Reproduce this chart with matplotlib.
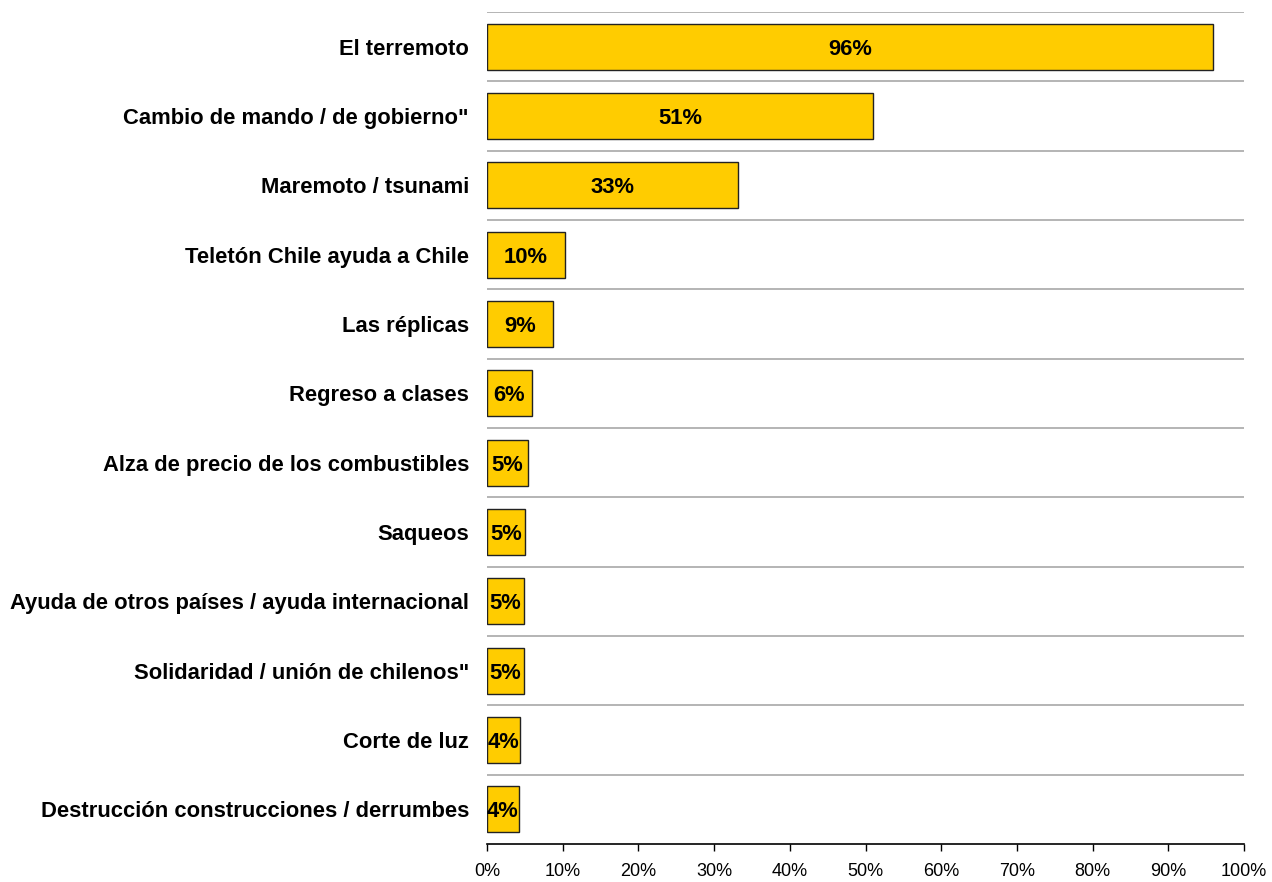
import matplotlib.pyplot as plt
from matplotlib.ticker import FuncFormatter

categories = [
    "El terremoto",
    "Cambio de mando / de gobierno\"",
    "Maremoto / tsunami",
    "Teletón Chile ayuda a Chile",
    "Las réplicas",
    "Regreso a clases",
    "Alza de precio de los combustibles",
    "Saqueos",
    "Ayuda de otros países / ayuda internacional",
    "Solidaridad / unión de chilenos\"",
    "Corte de luz",
    "Destrucción construcciones / derrumbes",
]
values = [95.9, 51.0, 33.2, 10.3, 8.7, 5.9, 5.4, 5.0, 4.9, 4.9, 4.4, 4.2]
labels = ["96%", "51%", "33%", "10%", "9%", "6%", "5%", "5%", "5%", "5%", "4%", "4%"]

plt.rcParams['font.family'] = ['Liberation Sans', 'DejaVu Sans']

fig = plt.figure(figsize=(12.72, 8.82), dpi=100)
ax = fig.add_axes([0.3829, 0.0431, 0.978 - 0.3829, 0.9864 - 0.0431])

n = len(categories)
ypos = list(range(n))
ax.barh(ypos, values, height=0.66, color="#FFCC00", edgecolor="#222222", linewidth=1.0, zorder=3)

for y, v, lab in zip(ypos, values, labels):
    ax.text(v / 2, y, lab, ha="center", va="center_baseline", fontsize=15.8, fontweight="bold", zorder=4)

ax.set_ylim(n - 0.5, -0.5)
ax.set_xlim(0, 100)

# separators between categories
for b in range(n):
    ax.axhline(b - 0.5, color="#a8a8a8", linewidth=1.2, zorder=1)

ax.set_yticks(ypos)
ax.set_yticklabels(categories, fontsize=15.8, fontweight="bold")
ax.tick_params(axis="y", length=0, pad=13)

ax.set_xticks(range(0, 101, 10))
ax.xaxis.set_major_formatter(FuncFormatter(lambda x, p: "%d%%" % x))
ax.tick_params(axis="x", direction="out", length=5, width=1, labelsize=13, pad=9)

for s in ["top", "right", "left"]:
    ax.spines[s].set_visible(False)
ax.spines["bottom"].set_linewidth(1.2)

fig.savefig("out.png", dpi=100)
